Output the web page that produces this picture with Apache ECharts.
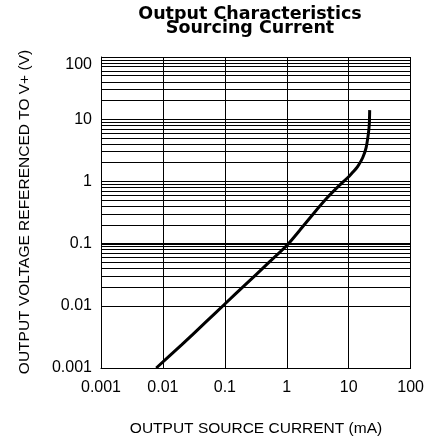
<!DOCTYPE html>
<html>
<head>
<meta charset="utf-8">
<script src="https://cdn.jsdelivr.net/npm/echarts@6/dist/echarts.min.js"></script>
<style>
html,body{margin:0;padding:0;background:#fff;}
#chart{width:427px;height:441px;}
</style>
</head>
<body>
<div id="chart"></div>
<script>
// Output source current (mA)
const currentMA = [0.0078, 0.02, 0.05, 0.1, 0.2, 0.5, 1, 1.63, 2.67, 4.37, 7.13, 10.1, 11.6, 14, 16.8, 19.1, 20.7, 21.5, 21.8];
// Output voltage referenced to V+ (V)
const voltageV = [0.001, 0.00235, 0.00556, 0.0107, 0.0205, 0.0484, 0.093, 0.165, 0.3, 0.53, 0.87, 1.2, 1.4, 1.75, 2.4, 3.5, 5.7, 8.3, 14];

const xTickLabels = ['0.001', '0.01', '0.1', '1', '10', '100'];
const yTickLabels = ['0.001', '0.01', '0.1', '1', '10', '100'];
const yDecades = [0.001, 0.01, 0.1, 1, 10];
const minorMultipliers = [2, 3, 4, 5, 6, 7, 8, 9];
const boldGridValue = 0.1;
const xAxisTitle = 'OUTPUT SOURCE CURRENT (mA)';
const yAxisTitle = 'OUTPUT VOLTAGE REFERENCED TO V+ (V)';

const points = currentMA.map((x, i) => [x, voltageV[i]]);

const gridLineStyle = { color: '#000', width: 1, type: 'solid' };
const minorLines = [];
yDecades.forEach(d => minorMultipliers.forEach(m => {
  minorLines.push({ yAxis: +(d * m).toPrecision(3) });
}));
minorLines.push({ yAxis: boldGridValue, lineStyle: { color: '#000', width: 2.2, type: 'solid' } });

function labelFor(list, v) {
  const idx = Math.round(Math.log10(v)) + 3;
  return list[idx] !== undefined ? list[idx] : '';
}

const nameFont = '15.5px "Liberation Sans"';

const chart = echarts.init(document.getElementById('chart'), null, { renderer: 'canvas' });
chart.setOption({
  animation: false,
  backgroundColor: '#fff',
  title: {
    text: 'Output Characteristics\nSourcing Current',
    left: 245,
    top: 2,
    textAlign: 'center',
    textStyle: {
      fontFamily: 'DejaVu Sans',
      fontWeight: 'bold',
      fontSize: 17.5,
      lineHeight: 14,
      color: '#000'
    }
  },
  graphic: [
    {
      type: 'text', x: 256, y: 429, silent: true,
      style: { text: xAxisTitle, font: nameFont, fill: '#000', align: 'center', verticalAlign: 'middle' }
    },
    {
      type: 'text', x: 24.5, y: 212, rotation: Math.PI / 2, silent: true,
      style: { text: yAxisTitle, font: nameFont, fill: '#000', align: 'center', verticalAlign: 'middle' }
    }
  ],
  grid: { left: 101, right: 15, top: 57, bottom: 73, containLabel: false },
  xAxis: {
    type: 'log',
    logBase: 10,
    min: 0.001,
    max: 100,
    axisLine: { show: true, lineStyle: { color: '#000', width: 1 } },
    axisTick: { show: false },
    axisLabel: {
      margin: 12,
      fontFamily: 'Liberation Sans',
      fontSize: 16,
      color: '#000',
      formatter: v => labelFor(xTickLabels, v)
    },
    splitLine: { show: true, lineStyle: gridLineStyle }
  },
  yAxis: {
    type: 'log',
    logBase: 10,
    min: 0.001,
    max: 100,
    axisLine: { show: true, lineStyle: { color: '#000', width: 1 } },
    axisTick: { show: false },
    axisLabel: {
      margin: 9,
      fontFamily: 'Liberation Sans',
      fontSize: 16,
      color: '#000',
      formatter: v => {
        const s = labelFor(yTickLabels, v);
        return v >= 99 ? '{t|' + s + '}' : s;
      },
      rich: { t: { fontFamily: 'Liberation Sans', fontSize: 16, color: '#000', padding: [16, 0, 0, 0] } }
    },
    splitLine: { show: true, lineStyle: gridLineStyle }
  },
  series: [{
    type: 'line',
    data: points,
    showSymbol: false,
    smooth: 0.2,
    lineStyle: { color: '#000', width: 3 },
    z: 5,
    markLine: {
      silent: true,
      symbol: ['none', 'none'],
      label: { show: false },
      lineStyle: gridLineStyle,
      z: 1,
      data: minorLines
    }
  }]
});
</script>
</body>
</html>
